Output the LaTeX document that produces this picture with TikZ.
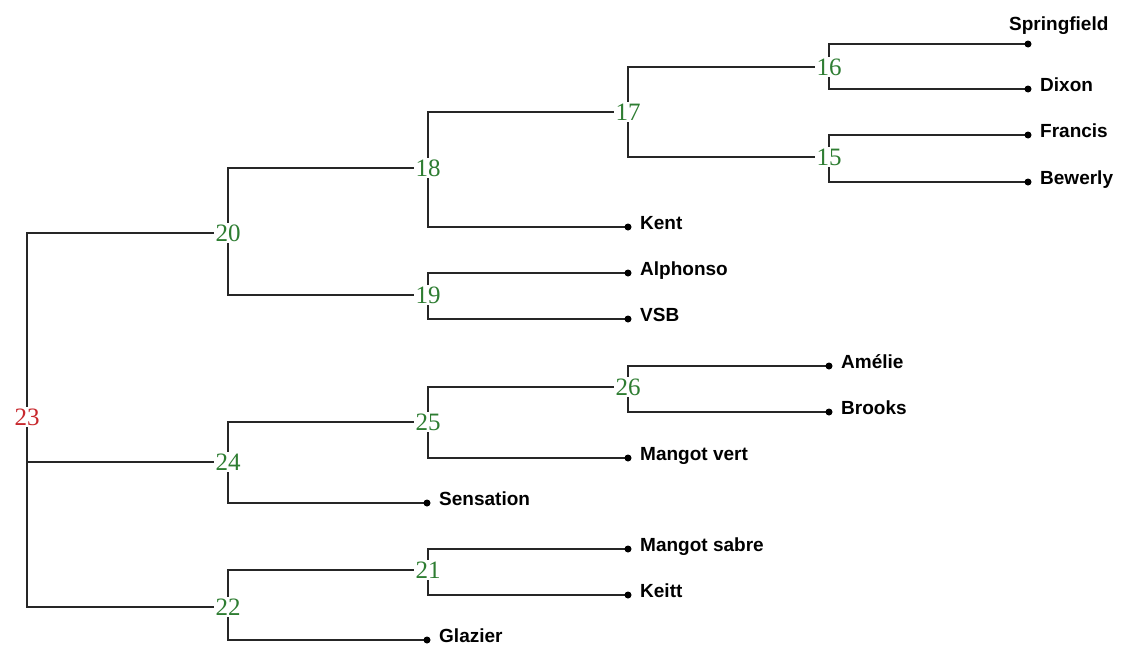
\documentclass[tikz,border=0pt]{standalone}
\usepackage{fontspec}
\setmainfont{Liberation Sans}
\newfontfamily\numfont{Liberation Serif}
\usetikzlibrary{backgrounds}
\definecolor{numgreen}{RGB}{46,125,50}
\definecolor{numred}{RGB}{200,40,45}
\begin{document}
\begin{tikzpicture}[x=1pt,y=-1pt,
  num/.style={font=\numfont\fontsize{25}{25}\selectfont, text=numgreen, fill=white, inner sep=1.5pt},
  rootnum/.style={num, text=numred},
  leaf/.style={circle, fill=black, inner sep=0pt, minimum size=7pt},
  lab/.style={anchor=base west, inner sep=0pt, font=\bfseries\fontsize{19}{21}\selectfont},
  link/.style={line width=1.7pt, draw=black!85}]
\useasboundingbox (0,0) rectangle (1122,646);
% internal nodes
\node[num] (n16) at (829,67) {16};
\node[num] (n15) at (829,157) {15};
\node[num] (n17) at (628,112) {17};
\node[num] (n18) at (428,168) {18};
\node[num] (n19) at (428,295) {19};
\node[num] (n20) at (228,233) {20};
\node[rootnum] (n23) at (27,417) {23};
\node[num] (n26) at (628,387) {26};
\node[num] (n25) at (428,422) {25};
\node[num] (n24) at (228,462) {24};
\node[num] (n21) at (428,570) {21};
\node[num] (n22) at (228,607) {22};
% leaves
\node[leaf] (springfield) at (1028,44) {};
\node[leaf] (dixon) at (1028,89) {};
\node[leaf] (francis) at (1028,135) {};
\node[leaf] (bewerly) at (1028,182) {};
\node[leaf] (kent) at (628,227) {};
\node[leaf] (alphonso) at (628,273) {};
\node[leaf] (vsb) at (628,319) {};
\node[leaf] (amelie) at (829,366) {};
\node[leaf] (brooks) at (829,412) {};
\node[leaf] (mangotvert) at (628,458) {};
\node[leaf] (sensation) at (427,503) {};
\node[leaf] (mangotsabre) at (628,549) {};
\node[leaf] (keitt) at (628,595) {};
\node[leaf] (glazier) at (427,640) {};
% leaf labels
\node[lab] (t-springfield) at (1009,30) {Springfield};
\node[lab] (t-dixon) at ([xshift=12pt,yshift=-2.5pt]dixon) {Dixon};
\node[lab] (t-francis) at ([xshift=12pt,yshift=-2.5pt]francis) {Francis};
\node[lab] (t-bewerly) at ([xshift=12pt,yshift=-2.5pt]bewerly) {Bewerly};
\node[lab] (t-kent) at ([xshift=12pt,yshift=-2.5pt]kent) {Kent};
\node[lab] (t-alphonso) at ([xshift=12pt,yshift=-2.5pt]alphonso) {Alphonso};
\node[lab] (t-vsb) at ([xshift=12pt,yshift=-2.5pt]vsb) {VSB};
\node[lab] (t-amelie) at ([xshift=12pt,yshift=-2.5pt]amelie) {Amélie};
\node[lab] (t-brooks) at ([xshift=12pt,yshift=-2.5pt]brooks) {Brooks};
\node[lab] (t-mangotvert) at ([xshift=12pt,yshift=-2.5pt]mangotvert) {Mangot vert};
\node[lab] (t-sensation) at ([xshift=12pt,yshift=-2.5pt]sensation) {Sensation};
\node[lab] (t-mangotsabre) at ([xshift=12pt,yshift=-2.5pt]mangotsabre) {Mangot sabre};
\node[lab] (t-keitt) at ([xshift=12pt,yshift=-2.5pt]keitt) {Keitt};
\node[lab] (t-glazier) at ([xshift=12pt,yshift=-2.5pt]glazier) {Glazier};
% connectors
\begin{scope}[on background layer]
\draw[link] (springfield.center) -| (n16.center) |- (dixon.center);
\draw[link] (francis.center) -| (n15.center) |- (bewerly.center);
\draw[link] (n16.center) -| (n17.center) |- (n15.center);
\draw[link] (n17.center) -| (n18.center) |- (kent.center);
\draw[link] (alphonso.center) -| (n19.center) |- (vsb.center);
\draw[link] (n18.center) -| (n20.center) |- (n19.center);
\draw[link] (amelie.center) -| (n26.center) |- (brooks.center);
\draw[link] (n26.center) -| (n25.center) |- (mangotvert.center);
\draw[link] (n25.center) -| (n24.center) |- (sensation.center);
\draw[link] (mangotsabre.center) -| (n21.center) |- (keitt.center);
\draw[link] (n21.center) -| (n22.center) |- (glazier.center);
\draw[link] (n20.center) -| (n23.center) |- (n22.center);
\draw[link] (n23.center |- n24.center) -- (n24.center);
\end{scope}
\end{tikzpicture}
\end{document}
